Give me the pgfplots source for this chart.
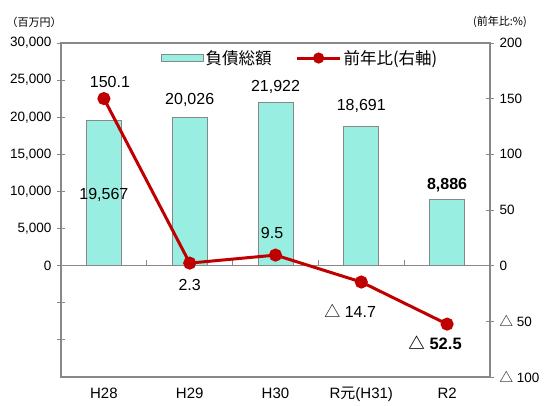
\documentclass[border=0pt]{standalone}
\usepackage{pgfplots}
\pgfplotsset{compat=1.18}
\usepackage{fontspec}
\setmainfont{Liberation Sans}
\newfontfamily\cjk{Noto Sans CJK JP}
\definecolor{barfill}{HTML}{99EEE2}
\definecolor{linered}{HTML}{C00000}
\definecolor{axgray}{HTML}{888888}

\begin{document}
\begin{tikzpicture}[x=1pt,y=1pt]
\useasboundingbox (0,0) rectangle (545,405);

% bars, left axis
\begin{axis}[
    at={(61pt,28pt)}, anchor=south west,
    scale only axis, width=429pt, height=334pt,
    xmin=-0.5, xmax=4.5, ymin=-15000, ymax=30000,
    scaled y ticks=false,
    xtick={0,...,4},
    xticklabels={H28,H29,H30,{R{\cjk 元}(H31)},R2},
    major x tick style={draw=none},
    xtick pos=bottom,
    ytick={-10000,-5000,0,5000,10000,15000,20000,25000,30000},
    yticklabels={,,0,{5,000},{10,000},{15,000},{20,000},{25,000},{30,000}},
    ytick pos=left,
    tick align=center, major tick length=8pt,
    axis line style={axgray, line width=1.3pt},
    tick style={axgray, line width=1pt},
    yticklabel style={font=\fontsize{13.5}{15}\selectfont, xshift=-2pt},
    xticklabel style={font=\fontsize{15}{17}\selectfont, yshift=-3pt},
    clip=false,
]
\addplot[ybar, bar width=35pt, fill=barfill, draw=axgray, line width=1pt]
    coordinates {(0,19567) (1,20026) (2,21922) (3,18691) (4,8886)};
\draw[axgray, line width=1.3pt] (axis cs:-0.5,0) -- (axis cs:4.5,0);
\pgfplotsinvokeforeach{0.5,1.5,2.5,3.5}{
    \draw[axgray, line width=1pt] (axis cs:#1,0) -- (axis cs:#1,700);
}
\begin{scope}[every node/.style={font=\fontsize{16}{18}\selectfont}]
\node at (axis cs:0,9550) {19,567};
\node at (axis cs:1,22330) {20,026};
\node at (axis cs:2,24080) {21,922};
\node at (axis cs:3,21520) {18,691};
\node[font=\fontsize{16}{18}\selectfont\bfseries] at (axis cs:4,10895) {8,886};
\end{scope}
\end{axis}

% ratio line, right axis
\begin{axis}[
    at={(61pt,28pt)}, anchor=south west,
    scale only axis, width=429pt, height=334pt,
    xmin=-0.5, xmax=4.5, ymin=-100, ymax=200,
    hide x axis,
    axis y line*=right,
    ytick={-100,-50,0,50,100,150,200},
    yticklabels={{{\cjk △} 100},{{\cjk △} 50},0,50,100,150,200},
    tick align=center, major tick length=8pt,
    axis line style={axgray, line width=1.3pt},
    tick style={axgray, line width=1pt},
    yticklabel style={font=\fontsize{13.5}{15}\selectfont, xshift=2pt},
    legend style={at={(0.557,0.955)}, anchor=center, draw=none, fill=none,
        font=\fontsize{16.5}{18}\selectfont\cjk},
    legend columns=2,
    /tikz/every even column/.append style={column sep=22pt},
    clip=false,
]
\addlegendimage{legend image code/.code={
    \draw[fill=barfill, draw=axgray, line width=1pt] (0pt,-3.5pt) rectangle (42pt,3.5pt);}}
\addlegendentry{負債総額}
\addplot[linered, line width=3pt, mark=*, mark size=5pt,
    legend image code/.code={
        \draw[linered, line width=3pt] (0pt,0pt) -- (43pt,0pt);
        \fill[linered] (21.5pt,0pt) circle (4pt);}]
    coordinates {(0,150.1) (1,2.3) (2,9.5) (3,-14.7) (4,-52.5)};
\addlegendentry{前年比(右軸)}
\begin{scope}[every node/.style={font=\fontsize{16}{18}\selectfont}]
\node at (axis cs:0.07,165.3) {150.1};
\node at (axis cs:1.0,-17.1) {2.3};
\node at (axis cs:1.96,29.6) {9.5};
\node at (axis cs:2.87,-40.4) {{\cjk △} 14.7};
\node[font=\fontsize{16.5}{18}\selectfont\bfseries] at (axis cs:3.86,-69.1) {{\cjk\bfseries △} 52.5};
\end{scope}
\end{axis}

\node[font=\fontsize{11}{13}\selectfont\cjk] at (34,383) {（百万円）};
\node[font=\fontsize{11}{13}\selectfont\cjk] at (500,383) {(前年比:\%)};
\end{tikzpicture}
\end{document}
